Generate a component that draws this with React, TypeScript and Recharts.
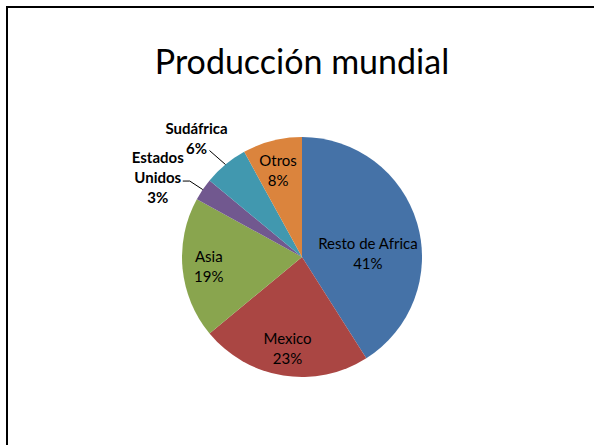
import { PieChart, Pie, Cell } from 'recharts'

const categories = ['Resto de Africa', 'Mexico', 'Asia', 'Estados Unidos', 'Sudáfrica', 'Otros']
const shares = [41, 23, 19, 3, 6, 8]
const colors = ['#4572A7', '#AA4643', '#89A54E', '#71588F', '#4198AF', '#DB843D']

const data = categories.map((name, i) => ({ name, value: shares[i] }))

const FONT = 'Lato, "Noto Sans", sans-serif'
const RAD = Math.PI / 180

// where Excel put the labels: inside ones by radius fraction + angle nudge,
// outside ones by offset from the slice edge with a leader line
const inside: Record<string, { r: number; da: number; lines: string[] }> = {
  'Resto de Africa': { r: 0.55, da: -13, lines: ['Resto de Africa'] },
  Mexico: { r: 0.77, da: 0, lines: ['Mexico'] },
  Asia: { r: 0.78, da: 0, lines: ['Asia'] },
  Otros: { r: 0.75, da: 1, lines: ['Otros'] },
}
const outside: Record<string, { lines: string[]; dx: number; dy: number; leader: number[][] }> = {
  'Sudáfrica': { lines: ['Sudáfrica'], dx: -29, dy: -26.5, leader: [[0, 0], [-16, -14]] },
  'Estados Unidos': { lines: ['Estados', 'Unidos'], dx: -45, dy: -12.5, leader: [[0, 0], [-13, -8.5], [-20, -8.5]] },
}

const renderLabel = (p: any) => {
  const { cx, cy, midAngle, outerRadius, percent, name } = p
  const pct = `${Math.round(percent * 100)}%`
  const lh = 20
  if (inside[name]) {
    const cfg = inside[name]
    const a = (midAngle + cfg.da) * RAD
    const x = cx + outerRadius * cfg.r * Math.cos(a)
    const y = cy - outerRadius * cfg.r * Math.sin(a)
    const lines = [...cfg.lines, pct]
    const top = y - ((lines.length - 1) * lh) / 2
    return (
      <text key={name} x={x} textAnchor="middle" fontFamily={FONT} fontSize={15} fill="#000">
        {lines.map((l, i) => (
          <tspan key={i} x={x} y={top + i * lh} dominantBaseline="central">{l}</tspan>
        ))}
      </text>
    )
  }
  const cfg = outside[name]
  if (!cfg) return null
  const ex = cx + outerRadius * Math.cos(midAngle * RAD)
  const ey = cy - outerRadius * Math.sin(midAngle * RAD)
  const lines = [...cfg.lines, pct]
  const x = ex + cfg.dx
  const top = ey + cfg.dy - ((lines.length - 1) * lh) / 2
  const pts = cfg.leader.map(([dx, dy]) => `${ex + dx},${ey + dy}`).join(' ')
  return (
    <g key={name}>
      <polyline points={pts} fill="none" stroke="#000" strokeWidth={1} />
      <text x={x} textAnchor="middle" fontFamily={FONT} fontSize={15} fontWeight="bold" fill="#000">
        {lines.map((l, i) => (
          <tspan key={i} x={x} y={top + i * lh} dominantBaseline="central">{l}</tspan>
        ))}
      </text>
    </g>
  )
}

export default function App() {
  return (
    <div style={{ position: 'fixed', left: 0, top: 0, width: 594, height: 445, background: '#fff', overflow: 'hidden' }}>
      <div
        style={{
          position: 'absolute',
          left: 6,
          top: 6,
          width: 620,
          height: 480,
          borderLeft: '2px solid #000',
          borderTop: '2px solid #000',
        }}
      />
      <div
        style={{
          position: 'absolute',
          left: 0,
          width: 604,
          top: 41,
          lineHeight: '40px',
          textAlign: 'center',
          fontFamily: FONT,
          fontSize: 34,
          color: '#000',
        }}
      >
        Producción mundial
      </div>
      <div style={{ position: 'absolute', left: 0, top: 0 }}>
        <PieChart width={594} height={445} margin={{ top: 0, right: 0, bottom: 0, left: 0 }}>
          <Pie
            data={data}
            dataKey="value"
            nameKey="name"
            cx={302}
            cy={257}
            outerRadius={120}
            startAngle={90}
            endAngle={-270}
            stroke="none"
            label={renderLabel}
            labelLine={false}
            isAnimationActive={false}
          >
            {data.map((d, i) => (
              <Cell key={d.name} fill={colors[i]} />
            ))}
          </Pie>
        </PieChart>
      </div>
    </div>
  )
}
